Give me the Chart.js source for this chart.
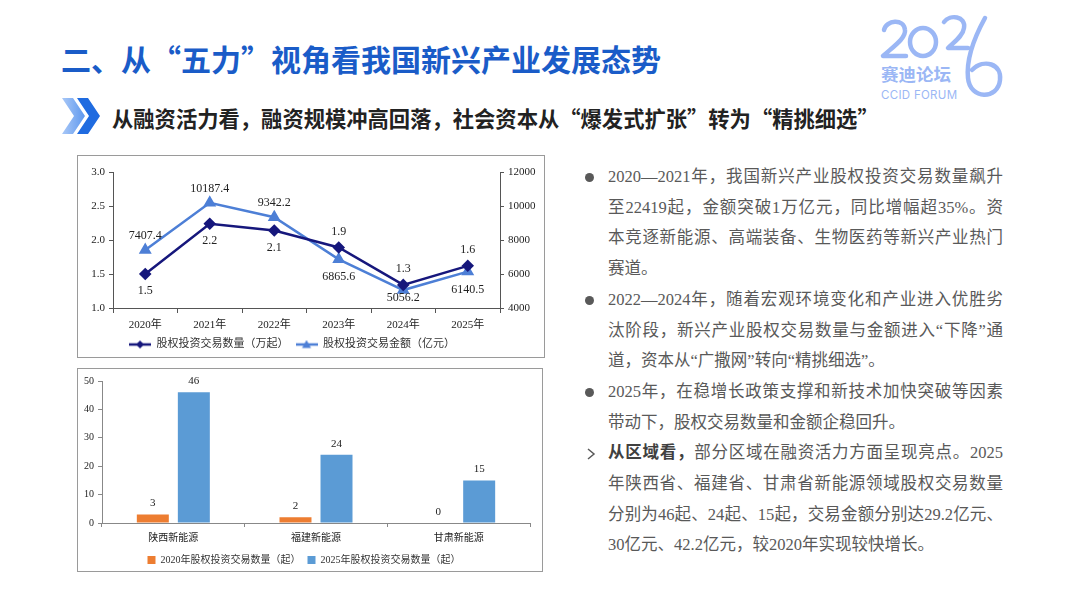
<!DOCTYPE html>
<html>
<head>
<meta charset="utf-8">
<script src="https://cdn.jsdelivr.net/npm/chart.js@4.4.1/dist/chart.umd.min.js"></script>
<style>
  body { margin: 0; width: 1080px; height: 607px; background: #fff; position: relative; overflow: hidden;
         font-family: "Noto Sans CJK SC", sans-serif; }
  .title { position: absolute; left: 61px; top: 36px; font-size: 30px; font-weight: 700; color: #1a5cc8; white-space: nowrap; }
  .sub { position: absolute; left: 112px; top: 102px; font-size: 21.3px; font-weight: 700; color: #222; white-space: nowrap; }
  .box { position: absolute; border: 1px solid #9a9a9a; box-sizing: border-box; }
  .txt { position: absolute; left: 608px; top: 162px; width: 395px; font-family: "Liberation Serif", "Noto Sans CJK SC", serif;
         font-size: 16.5px; line-height: 30.7px; color: #595959; }
  .txt div { white-space: nowrap; }
  .txt .j { text-align: justify; text-align-last: justify; white-space: normal; }
  .dot { position: absolute; left: -23px; width: 9px; height: 9px; border-radius: 50%; background: #595959; margin-top: 11px; }
  .chev { position: absolute; left: -22px; top: 10px; }
</style>
</head>
<body>
<div class="title">二、从“五力”视角看我国新兴产业发展态势</div>
<svg style="position:absolute;left:60px;top:96px" width="44" height="40" viewBox="0 0 44 40">
  <defs>
    <linearGradient id="g1" x1="0" x2="1"><stop offset="0" stop-color="#a9c8f7"/><stop offset="1" stop-color="#5e98ee"/></linearGradient>
  </defs>
  <polygon points="2,2 13,2 25,20 13,38 2,38 14,20" fill="url(#g1)"/>
  <polygon points="17,2 28,2 40,20 28,38 17,38 29,20" fill="#1f6be0"/>
</svg>
<div class="sub">从融资活力看，融资规模冲高回落，社会资本从“爆发式扩张”转为“精挑细选”</div>

<svg style="position:absolute;left:870px;top:8px" width="150" height="98">
  <g fill="none" stroke="#9bb7f5" stroke-width="4.5" stroke-linecap="round" stroke-linejoin="round">
    <path d="M14,22 C16,12 34,10 35,22 C36,30 24,38 13,48 L36,48"/>
    <ellipse cx="53" cy="34" rx="13" ry="14"/>
    <path d="M74,14 C80,6 96,8 94,20 C93,28 84,34 78,40 L98,40"/>
    <path d="M115,10 C104,30 96,50 98,70 C100,92 128,92 130,72 C132,56 114,50 102,62"/>
  </g>
  <text x="11" y="73" font-family="Noto Sans CJK SC" font-size="17.5" font-weight="700" fill="#9bb7f5">赛迪论坛</text>
  <text x="11" y="91" font-family="Inter, sans-serif" font-size="11.5" fill="#9bb7f5" letter-spacing="0.3">CCID FORUM</text>
</svg>

<div class="box" style="left:77px;top:155px;width:468px;height:203px;"></div>
<div style="position:absolute;left:78px;top:156px;width:466px;height:201px;"><canvas id="c1"></canvas></div>
<div class="box" style="left:77px;top:368px;width:466px;height:204px;"></div>
<div style="position:absolute;left:78px;top:369px;width:464px;height:202px;"><canvas id="c2"></canvas></div>

<div class="txt">
  <div style="position:relative"><span class="dot"></span><div class="j">2020—2021年，我国新兴产业股权投资交易数量飙升</div></div>
  <div class="j">至22419起，金额突破1万亿元，同比增幅超35%。资</div>
  <div class="j">本竞逐新能源、高端装备、生物医药等新兴产业热门</div>
  <div>赛道。</div>
  <div style="position:relative"><span class="dot"></span><div class="j">2022—2024年，随着宏观环境变化和产业进入优胜劣</div></div>
  <div class="j">汰阶段，新兴产业股权交易数量与金额进入“下降”通</div>
  <div>道，资本从“广撒网”转向“精挑细选”。</div>
  <div style="position:relative"><span class="dot"></span><div class="j">2025年，在稳增长政策支撑和新技术加快突破等因素</div></div>
  <div>带动下，股权交易数量和金额企稳回升。</div>
  <div style="position:relative"><svg class="chev" width="10" height="12"><polyline points="2,1 8,6 2,11" fill="none" stroke="#595959" stroke-width="1.5"/></svg><div class="j"><b style="color:#404040">从区域看，</b>部分区域在融资活力方面呈现亮点。2025</div></div>
  <div class="j">年陕西省、福建省、甘肃省新能源领域股权交易数量</div>
  <div class="j">分别为46起、24起、15起，交易金额分别达29.2亿元、</div>
  <div>30亿元、42.2亿元，较2020年实现较快增长。</div>
</div>

<script>
const years = ['2020年', '2021年', '2022年', '2023年', '2024年', '2025年'];
const dealCount = [1.5, 2.24, 2.14, 1.89, 1.34, 1.62];          // 万起
const dealAmount = [7407.4, 10187.4, 9342.2, 6865.6, 5056.2, 6140.5]; // 亿元

const regions = ['陕西新能源', '福建新能源', '甘肃新能源'];
const deals2020 = [3, 2, 0];
const deals2025 = [46, 24, 15];

const serif = "'Liberation Serif', 'Noto Sans CJK SC', serif";
const navy = '#16177c';
const blue = '#4d7fd6';

function legendIcon(color, style) {
  const c = document.createElement('canvas');
  c.width = 22; c.height = 10;
  const g = c.getContext('2d');
  g.strokeStyle = color; g.fillStyle = color; g.lineWidth = 2.5;
  g.beginPath(); g.moveTo(0, 5); g.lineTo(22, 5); g.stroke();
  g.beginPath();
  if (style === 'rectRot') { g.moveTo(11, 1); g.lineTo(15, 5); g.lineTo(11, 9); g.lineTo(7, 5); }
  else { g.moveTo(11, 0.5); g.lineTo(15.5, 8.5); g.lineTo(6.5, 8.5); }
  g.closePath(); g.fill();
  return c;
}

// value labels: the upper line of each year gets its label above, the lower one below
const lineLabels = {
  id: 'lineLabels',
  afterLayout(chart) {
    chart.legend.left -= 19;
    chart.legend.right -= 19;
  },
  afterDatasetsDraw(chart) {
    const ctx = chart.ctx;
    const m0 = chart.getDatasetMeta(0).data, m1 = chart.getDatasetMeta(1).data;
    const maxY = chart.chartArea.bottom - 10;
    ctx.save();
    ctx.font = '12px ' + serif;
    ctx.fillStyle = '#222';
    ctx.textAlign = 'center';
    ctx.textBaseline = 'middle';
    for (let i = 0; i < years.length; i++) {
      const a = m0[i], b = m1[i];
      const aUp = a.y < b.y;
      ctx.fillText(dealCount[i].toFixed(1), a.x, Math.min(maxY, a.y + (aUp ? -16 : 17)));
      ctx.fillText(dealAmount[i].toFixed(1), b.x, Math.min(maxY, b.y + (aUp ? 18 : -14)));
    }
    ctx.restore();
  }
};

new Chart(document.getElementById('c1'), {
  type: 'line',
  data: {
    labels: years,
    datasets: [{
      label: '股权投资交易数量（万起）',
      data: dealCount,
      yAxisID: 'y',
      borderColor: navy, backgroundColor: navy,
      borderWidth: 2.5, pointStyle: 'rectRot', pointRadius: 4.5,
      tension: 0
    }, {
      label: '股权投资交易金额（亿元）',
      data: dealAmount,
      yAxisID: 'y1',
      borderColor: blue, backgroundColor: blue,
      borderWidth: 2.5, pointStyle: 'triangle', pointRadius: 5,
      tension: 0
    }]
  },
  options: {
    responsive: true, maintainAspectRatio: false, animation: false,
    layout: { padding: { top: 16, right: 0, bottom: -3, left: 0 } },
    plugins: {
      tooltip: { enabled: false },
      legend: {
        position: 'bottom',
        labels: {
          font: { family: serif, size: 11 }, color: '#333', usePointStyle: true, pointStyleWidth: 22,
          padding: 7,
          generateLabels(chart) {
            return Chart.defaults.plugins.legend.labels.generateLabels(chart).map((l, i) => {
              l.pointStyle = legendIcon(i === 0 ? navy : blue, i === 0 ? 'rectRot' : 'triangle');
              return l;
            });
          }
        }
      }
    },
    scales: {
      x: {
        offset: true,
        grid: { display: true, offset: true, drawOnChartArea: false, tickLength: 5, color: '#555' },
        border: { color: '#555' },
        ticks: { font: { family: serif, size: 11 }, color: '#222', padding: 6 },
        afterFit(s) { s.height = 24; }
      },
      y: {
        position: 'left', min: 1.0, max: 3.0,
        grid: { drawOnChartArea: false, tickLength: 4, color: '#555' },
        border: { color: '#555' },
        ticks: { stepSize: 0.5, callback: v => v.toFixed(1), font: { family: serif, size: 11 }, color: '#222', padding: 4 },
        afterFit(s) { s.width = 35; }
      },
      y1: {
        position: 'right', min: 4000, max: 12000,
        grid: { drawOnChartArea: false, tickLength: 4, color: '#555' },
        border: { color: '#555' },
        ticks: { stepSize: 2000, callback: v => String(v), font: { family: serif, size: 11 }, color: '#222', padding: 4 },
        afterFit(s) { s.width = 44; }
      }
    }
  },
  plugins: [lineLabels]
});

const barLabels = {
  id: 'barLabels',
  afterDatasetsDraw(chart) {
    const ctx = chart.ctx;
    ctx.save();
    ctx.font = '11px ' + serif;
    ctx.fillStyle = '#222';
    ctx.textAlign = 'center';
    ctx.textBaseline = 'middle';
    chart.data.datasets.forEach((ds, di) => {
      chart.getDatasetMeta(di).data.forEach((bar, i) => {
        ctx.fillText(String(ds.data[i]), bar.x, bar.y - 11);
      });
    });
    ctx.restore();
  }
};

new Chart(document.getElementById('c2'), {
  type: 'bar',
  data: {
    labels: regions,
    datasets: [{
      label: '2020年股权投资交易数量（起）',
      data: deals2020,
      backgroundColor: '#ed7d31'
    }, {
      label: '2025年股权投资交易数量（起）',
      data: deals2025,
      backgroundColor: '#5b9bd5'
    }]
  },
  options: {
    responsive: true, maintainAspectRatio: false, animation: false,
    categoryPercentage: 0.575, barPercentage: 0.78,
    layout: { padding: { top: 12, right: 12, bottom: -4, left: 0 } },
    plugins: {
      tooltip: { enabled: false },
      legend: {
        position: 'bottom',
        labels: { font: { family: serif, size: 10 }, color: '#333', boxWidth: 8, boxHeight: 8, padding: 7 }
      }
    },
    scales: {
      x: {
        grid: { display: true, offset: true, drawOnChartArea: false, tickLength: 4, color: '#888' },
        border: { color: '#888' },
        ticks: { font: { family: serif, size: 10 }, color: '#222', padding: 5 },
        afterFit(s) { s.height = 25; }
      },
      y: {
        min: 0, max: 50,
        grid: { drawOnChartArea: false, tickLength: 4, color: '#888' },
        border: { color: '#888' },
        ticks: { stepSize: 10, font: { family: serif, size: 10 }, color: '#222', padding: 4 },
        afterFit(s) { s.width = 24; }
      }
    }
  },
  plugins: [barLabels]
});
</script>
</body>
</html>
